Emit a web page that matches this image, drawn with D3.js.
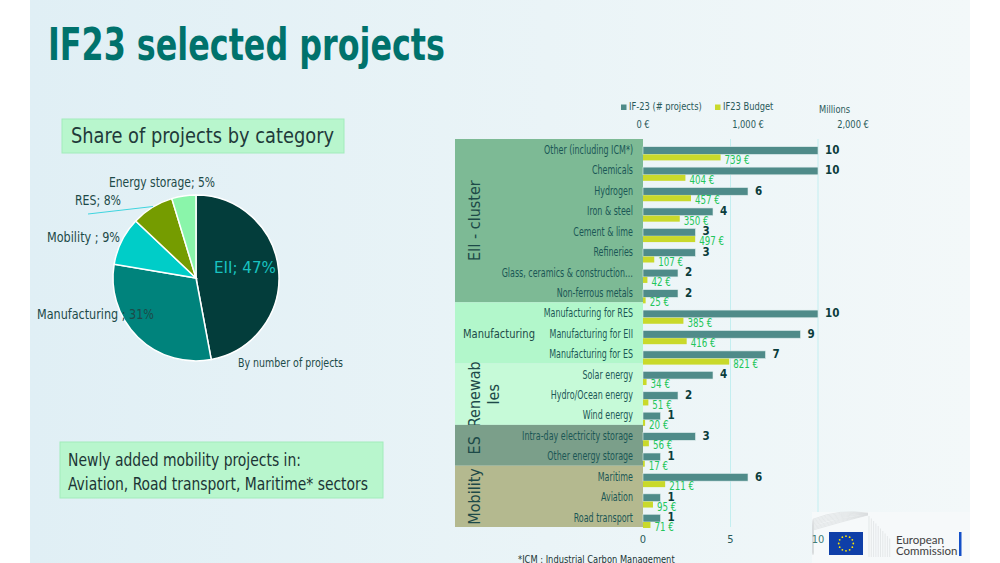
<!DOCTYPE html>
<html>
<head>
<meta charset="utf-8">
<script src="https://cdn.jsdelivr.net/npm/d3@7"></script>
<style>
  html, body { margin: 0; padding: 0; background: #ffffff; }
  svg { display: block; }
  text { font-family: "Liberation Sans Narrow", "DejaVu Sans Condensed", "Roboto Condensed", Roboto, sans-serif; }
</style>
</head>
<body>
<svg id="chart" width="1000" height="563"></svg>
<script>
// ---------------- DATA ----------------
const categories = [
  "Other (including ICM*)", "Chemicals", "Hydrogen", "Iron & steel", "Cement & lime",
  "Refineries", "Glass, ceramics & construction…", "Non-ferrous metals",
  "Manufacturing for RES", "Manufacturing for EII", "Manufacturing for ES",
  "Solar energy", "Hydro/Ocean energy", "Wind energy",
  "Intra-day electricity storage", "Other energy storage",
  "Maritime", "Aviation", "Road transport"
];
const projects = [10, 10, 6, 4, 3, 3, 2, 2, 10, 9, 7, 4, 2, 1, 3, 1, 6, 1, 1];
const budget   = [739, 404, 457, 350, 497, 107, 42, 25, 385, 416, 821, 34, 51, 20, 56, 17, 211, 95, 71];

const groupNames = ["EII - cluster", "Manufacturing", "Renewab|les", "ES", "Mobility"];
const groupSizes = [8, 3, 3, 2, 3];

const pieLabels = ["EII", "Manufacturing ", "Mobility ", "RES", "Energy storage"];
const piePercents = [47, 31, 9, 8, 5];

const countTicks = [0, 5, 10];
const budgetTicks = [0, 1000, 2000];

const seriesNames = ["IF-23 (# projects)", "IF23 Budget"];

// ---------------- STYLE ----------------
const C = {
  title: "#00726c",
  dark: "#1d4a48",
  countBar: "#4f8b89",
  budgetBar: "#c9d92b",
  budgetLabel: "#22c55a",
  countLabel: "#0b3d3c",
  grid: "#c3eef0",
  groups: ["#7dba95", "#b2f7cb", "#c6fad8", "#7b9f8a", "#b4b98f"],
  pie: ["#033d3b", "#00837c", "#00cdc8", "#759c00", "#8af5aa"]
};

const svg = d3.select("#chart");

// background panel
const defs = svg.append("defs");
const grad = defs.append("linearGradient").attr("id", "bg").attr("x1", "0").attr("x2", "1").attr("y1", "0").attr("y2", "0");
grad.append("stop").attr("offset", "0%").attr("stop-color", "#e0eff5");
grad.append("stop").attr("offset", "55%").attr("stop-color", "#eaf4f7");
grad.append("stop").attr("offset", "100%").attr("stop-color", "#f3f8f9");
svg.append("rect").attr("x", 30).attr("y", 0).attr("width", 940).attr("height", 563).attr("fill", "url(#bg)");

function fit(sel, w) {
  sel.each(function () {
    const len = this.getComputedTextLength();
    if (len > 0) d3.select(this).attr("textLength", w).attr("lengthAdjust", "spacingAndGlyphs");
  });
  return sel;
}
function condense(sel, f) {
  sel.each(function () {
    const len = this.getComputedTextLength();
    if (len > 0) d3.select(this).attr("textLength", len * f).attr("lengthAdjust", "spacingAndGlyphs");
  });
  return sel;
}

// ---------------- TITLE ----------------
fit(svg.append("text").attr("x", 48).attr("y", 60)
  .attr("font-size", 45).attr("font-weight", "bold").attr("fill", C.title)
  .text("IF23 selected projects"), 397);

// ---------------- PIE ----------------
svg.append("rect").attr("x", 62).attr("y", 119).attr("width", 282).attr("height", 34)
  .attr("fill", "#b8f6cd").attr("stroke", "#a2ecbb");
fit(svg.append("text").attr("x", 71).attr("y", 143).attr("font-size", 21).attr("fill", "#1f3a3a")
  .text("Share of projects by category"), 263);

// pie values: number of projects per category group
const groupTotals = [];
{ let i = 0; groupSizes.forEach(s => { groupTotals.push(d3.sum(projects.slice(i, i + s))); i += s; }); }
// order in pie: EII, Manufacturing, Mobility, RES, ES
const pieValues = [groupTotals[0], groupTotals[1], groupTotals[4], groupTotals[2], groupTotals[3]];

const cx = 196, cy = 278, R = 83;
const pie = d3.pie().sort(null).startAngle(0).endAngle(2 * Math.PI);
const arc = d3.arc().innerRadius(0).outerRadius(R);
const pg = svg.append("g").attr("transform", `translate(${cx},${cy})`);
pg.selectAll("path").data(pie(pieValues)).join("path")
  .attr("d", arc).attr("fill", (d, i) => C.pie[i])
  .attr("stroke", "#ffffff").attr("stroke-width", 1.5);

// leader line for RES
svg.append("line").attr("x1", 88).attr("y1", 214).attr("x2", 153).attr("y2", 206.5)
  .attr("stroke", "#3fd5df").attr("stroke-width", 1);

const pieLabelPos = [
  { x: 214, y: 273, fill: "#19c3c0", size: 15, w: 62 },
  { x: 37, y: 319, fill: C.dark, size: 14, w: 117 },
  { x: 47, y: 242, fill: C.dark, size: 14, w: 73 },
  { x: 75, y: 205, fill: C.dark, size: 14, w: 46 },
  { x: 109, y: 187, fill: C.dark, size: 14, w: 106 }
];
pieLabels.forEach((lab, i) => {
  const p = pieLabelPos[i];
  fit(svg.append("text").attr("x", p.x).attr("y", p.y).attr("font-size", p.size).attr("fill", p.fill)
    .text(`${lab}; ${piePercents[i]}%`), p.w);
});
fit(svg.append("text").attr("x", 238).attr("y", 367).attr("font-size", 12).attr("fill", C.dark)
  .text("By number of projects"), 105);

// note box
svg.append("rect").attr("x", 60).attr("y", 442).attr("width", 323).attr("height", 56)
  .attr("fill", "#b8f6cd").attr("stroke", "#a2ecbb");
fit(svg.append("text").attr("x", 68).attr("y", 466).attr("font-size", 17).attr("fill", "#1c3535")
  .text("Newly added mobility projects in:"), 233);
fit(svg.append("text").attr("x", 68).attr("y", 490).attr("font-size", 17).attr("fill", "#1c3535")
  .text("Aviation, Road transport, Maritime* sectors"), 300);

// ---------------- BAR CHART ----------------
const plotTop = 139, plotBottom = 527;
const xCount = d3.scaleLinear().domain([0, 10]).range([643, 818]);
const xBudget = d3.scaleLinear().domain([0, 2000]).range([643, 853]);
const y = d3.scaleBand().domain(categories).range([plotTop, plotBottom]).padding(0);
const bw = y.bandwidth();

// group panels
const panelX0 = 455, panelX1 = 643;
let start = 0;
const bars = svg.append("g");
groupNames.forEach((g, gi) => {
  const y0 = y(categories[start]);
  const y1 = y(categories[start + groupSizes[gi] - 1]) + bw;
  bars.append("rect").attr("x", panelX0).attr("y", y0).attr("width", panelX1 - panelX0).attr("height", y1 - y0)
    .attr("fill", C.groups[gi]);
  const mid = (y0 + y1) / 2;
  if (g === "Manufacturing") {
    fit(bars.append("text").attr("x", 463).attr("y", mid + 5).attr("font-size", 13).attr("fill", C.dark).text(g), 72);
  } else {
    const lines = g.split("|");
    lines.forEach((ln, li) => {
      bars.append("text")
        .attr("transform", `translate(${474 + li * 19},${mid}) rotate(-90)`)
        .attr("text-anchor", "middle").attr("dominant-baseline", "central")
        .attr("font-size", 16).attr("fill", C.dark).text(ln);
    });
  }
  start += groupSizes[gi];
});

// gridlines
bars.selectAll("line.grid").data(countTicks.slice(1)).join("line")
  .attr("x1", d => xCount(d)).attr("x2", d => xCount(d))
  .attr("y1", plotTop).attr("y2", plotBottom).attr("stroke", C.grid).attr("stroke-width", 1);

// category labels
condense(bars.selectAll("text.cat").data(categories).join("text").attr("class", "cat")
  .attr("x", 633).attr("y", d => y(d) + 15)
  .attr("text-anchor", "end").attr("font-size", 11.5).attr("fill", "#1b5755").text(d => d), 0.77);

// count bars
bars.selectAll("rect.cnt").data(categories).join("rect").attr("class", "cnt")
  .attr("x", xCount(0)).attr("y", d => y(d) + 7.7)
  .attr("width", (d, i) => xCount(projects[i]) - xCount(0)).attr("height", 7.7)
  .attr("fill", C.countBar).attr("stroke", "#dfeeee").attr("stroke-width", 0.6);

// budget bars
bars.selectAll("rect.bud").data(categories).join("rect").attr("class", "bud")
  .attr("x", xBudget(0)).attr("y", d => y(d) + 15.4)
  .attr("width", (d, i) => xBudget(budget[i]) - xBudget(0)).attr("height", 6)
  .attr("fill", C.budgetBar);

// count labels
bars.selectAll("text.cntl").data(categories).join("text").attr("class", "cntl")
  .attr("x", (d, i) => xCount(projects[i]) + 7).attr("y", d => y(d) + 14.8)
  .attr("font-size", 11.5).attr("font-weight", "bold").attr("fill", C.countLabel)
  .text((d, i) => projects[i]);

// budget labels
condense(bars.selectAll("text.budl").data(categories).join("text").attr("class", "budl")
  .attr("x", (d, i) => xBudget(budget[i]) + 4).attr("y", d => y(d) + 24.5)
  .attr("font-size", 11.5).attr("fill", C.budgetLabel)
  .text((d, i) => `${budget[i]} €`), 0.84);

// top axis (budget)
condense(svg.selectAll("text.bt").data(budgetTicks).join("text").attr("class", "bt")
  .attr("x", d => xBudget(d)).attr("y", 128).attr("text-anchor", "middle")
  .attr("font-size", 10.5).attr("fill", "#2a5a5a")
  .text(d => d3.format(",")(d) + " €"), 0.88);
condense(svg.append("text").attr("x", 819).attr("y", 113).attr("font-size", 10.5).attr("fill", "#2a5a5a").text("Millions"), 0.88);

// legend
const legX = [621, 715];
seriesNames.forEach((s, i) => {
  svg.append("rect").attr("x", legX[i]).attr("y", 104.5).attr("width", 5.5).attr("height", 5.5)
    .attr("fill", i === 0 ? C.countBar : C.budgetBar);
  condense(svg.append("text").attr("x", legX[i] + 8).attr("y", 110).attr("font-size", 10.5).attr("fill", "#2a5a5a").text(s), 0.88);
});

// ---------------- LOGO ----------------
const logo = svg.append("g");
logo.append("rect").attr("x", 812).attr("y", 512).attr("width", 158).attr("height", 51).attr("fill", "#f6f9fa");
for (let k = 0; k < 10; k++) {
  logo.append("path")
    .attr("d", `M813,${555 - k * 0.4} L813,${530 - k * 1.2} Q840,${522 - k * 1.5} 868,${515 - k * 0.2}`)
    .attr("fill", "none").attr("stroke", "#d9dcdd").attr("stroke-width", 0.6);
  logo.append("path")
    .attr("d", `M${869 + k * 2.3},${557} L${869 + k * 2.3},${516 + k * 2.5}`)
    .attr("fill", "none").attr("stroke", "#d9dcdd").attr("stroke-width", 0.6);
}
logo.append("rect").attr("x", 829).attr("y", 532).attr("width", 34).attr("height", 23).attr("fill", "#0f3fa8");
d3.range(12).forEach(k => {
  const a = k / 12 * 2 * Math.PI;
  logo.append("circle").attr("cx", 846 + 7.3 * Math.sin(a)).attr("cy", 543.5 - 7.3 * Math.cos(a))
    .attr("r", 0.9).attr("fill", "#ffe600");
});
logo.append("text").attr("x", 896).attr("y", 544).attr("font-size", 11.5).attr("fill", "#404040")
  .style("font-family", "Lato, 'Open Sans', sans-serif").text("European");
logo.append("text").attr("x", 896).attr("y", 555).attr("font-size", 11.5).attr("fill", "#404040")
  .style("font-family", "Lato, 'Open Sans', sans-serif").text("Commission");
logo.append("rect").attr("x", 959).attr("y", 532).attr("width", 2.5).attr("height", 24).attr("fill", "#1450c8");

// bottom axis (count)
svg.selectAll("text.ct").data(countTicks).join("text").attr("class", "ct")
  .attr("x", d => xCount(d)).attr("y", 543).attr("text-anchor", "middle")
  .attr("font-size", 11).attr("fill", d => d === 10 ? "#3f7d78" : "#2a5a5a").text(d => d);

// footnote
condense(svg.append("text").attr("x", 518).attr("y", 563).attr("font-size", 10.5).attr("fill", "#1c3535")
  .text("*ICM : Industrial Carbon Management"), 0.88);
</script>
</body>
</html>
